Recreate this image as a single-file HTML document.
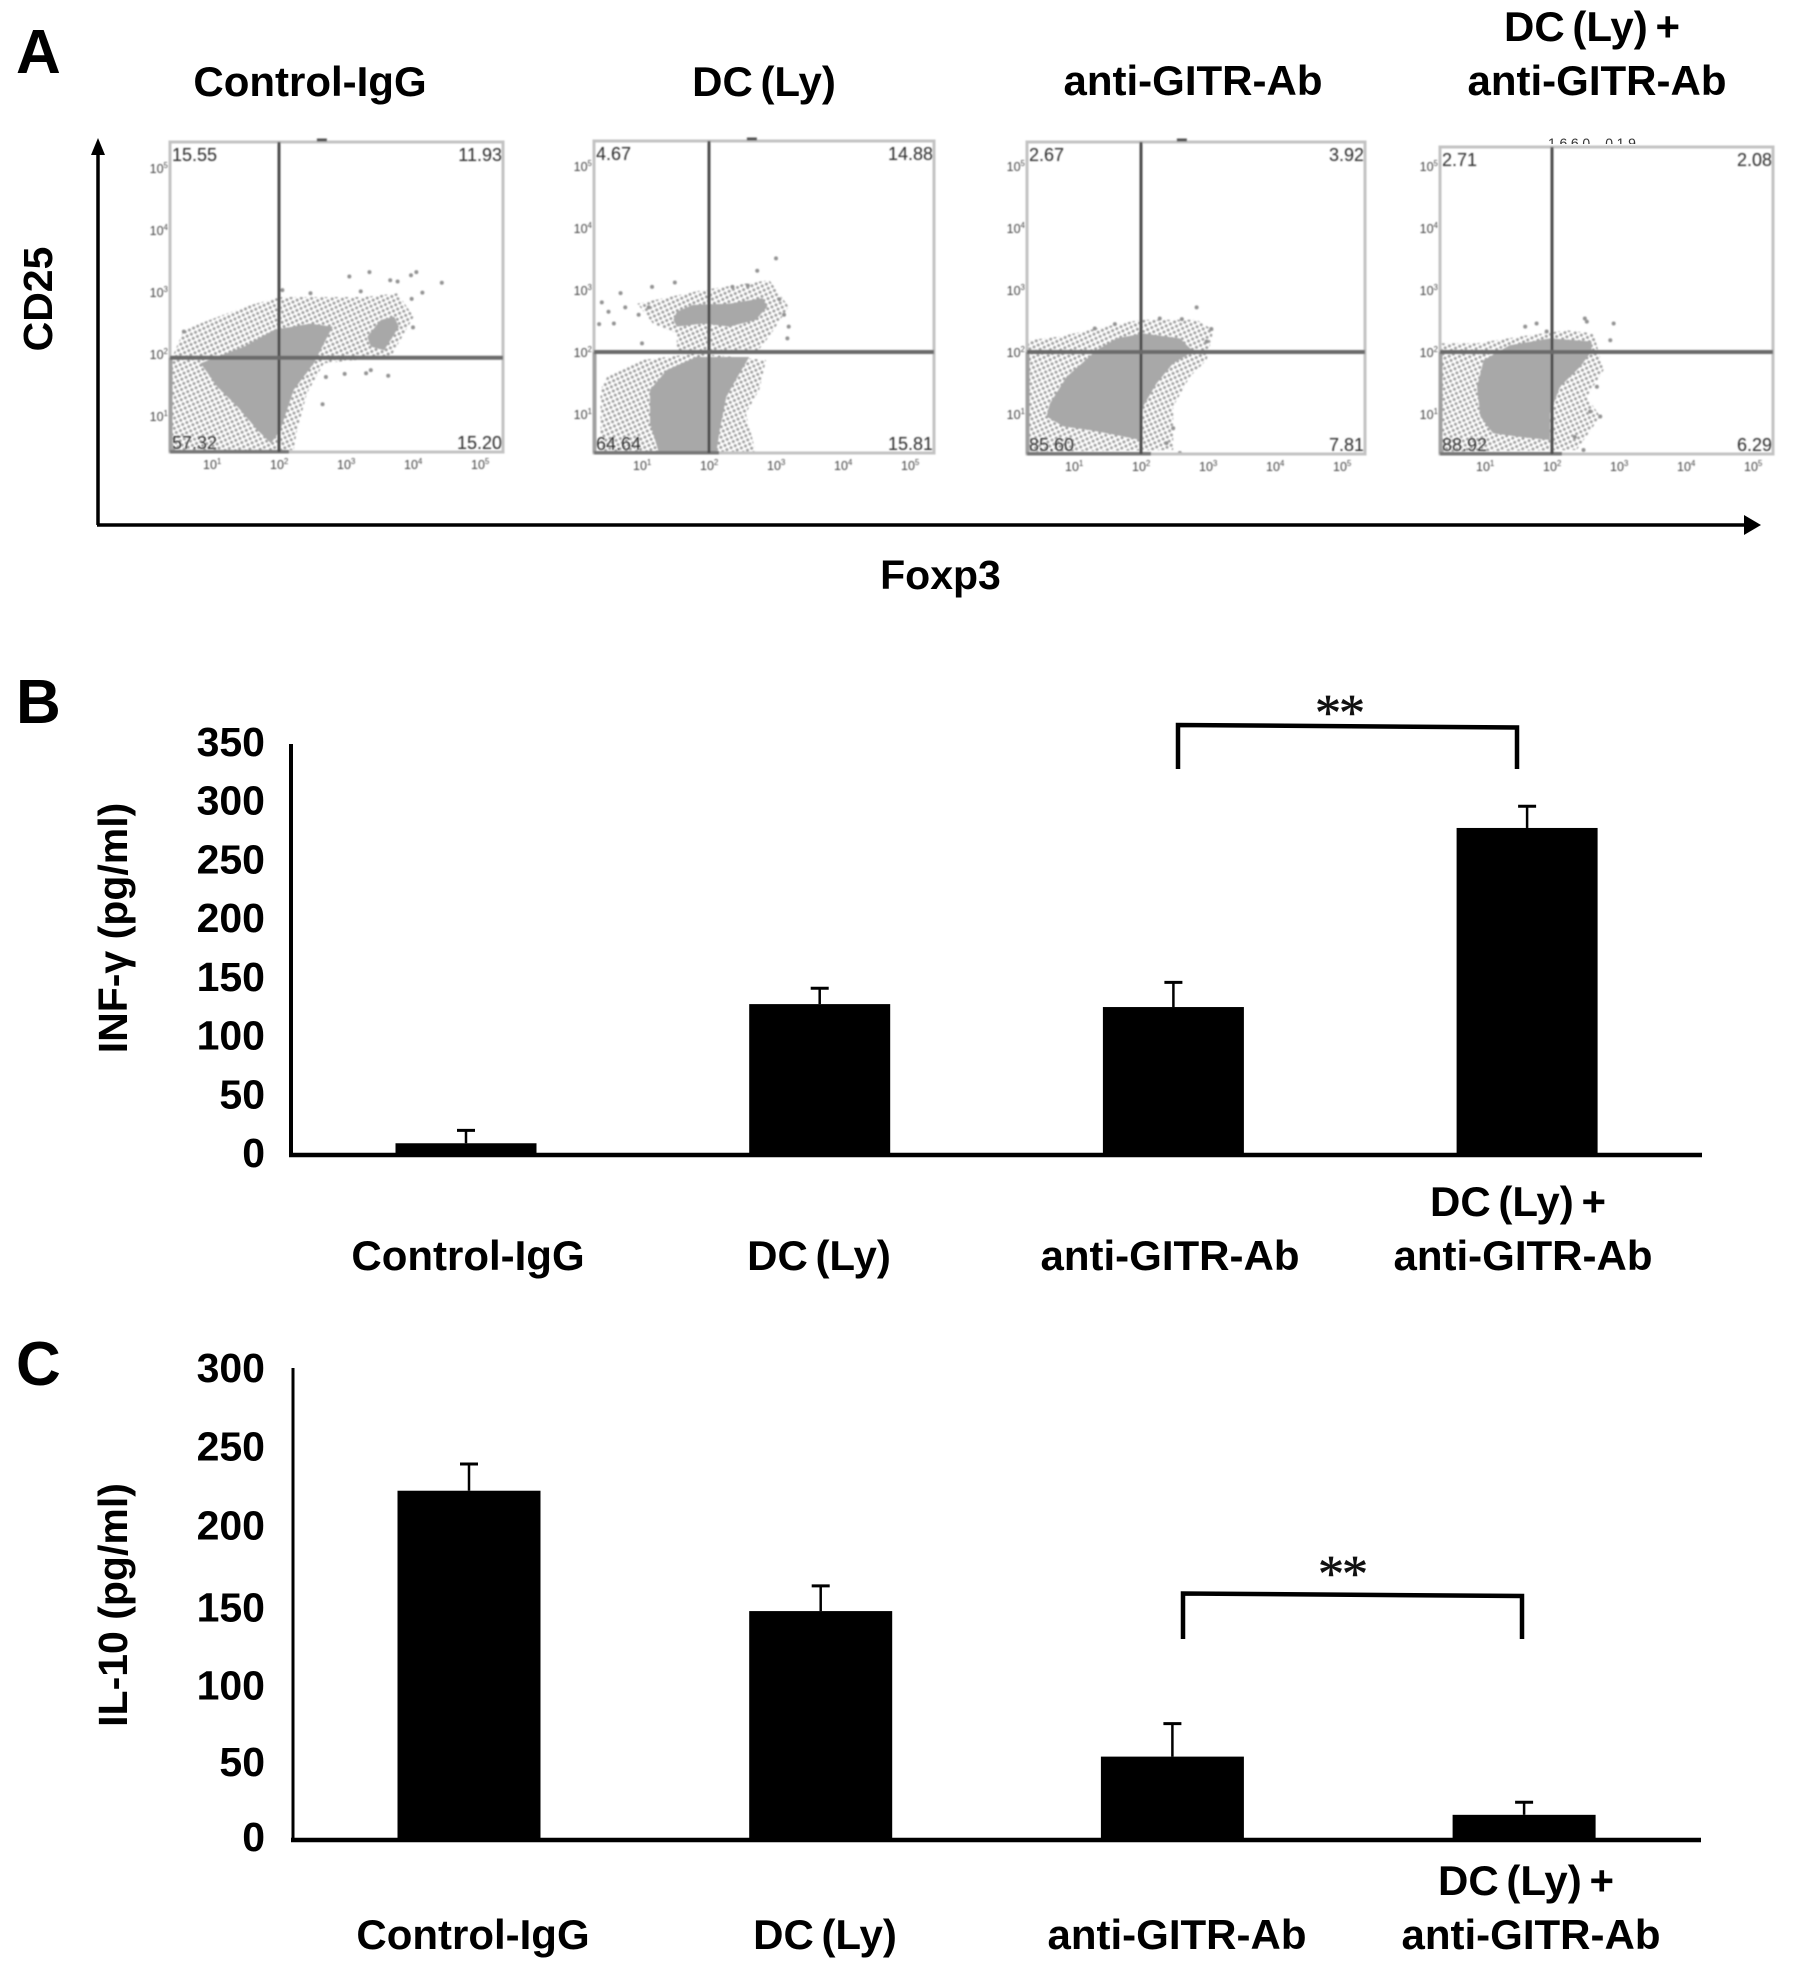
<!DOCTYPE html>
<html lang="en">
<head>
<meta charset="utf-8">
<title>CD25 Foxp3 flow cytometry with INF-γ and IL-10 bar charts</title>
<style>
html,body{margin:0;padding:0;background:#fff;width:1795px;height:1970px;overflow:hidden}
svg{display:block}
text{font-family:"Liberation Sans",sans-serif;fill:#000}
.big{font-size:41px;font-weight:bold}
.cat{font-size:42px;font-weight:bold;word-spacing:-4px}
.letter{font-size:62px;font-weight:bold}
.stars{font-family:"Liberation Serif",serif;font-size:52px;letter-spacing:-2px;fill:#111;stroke:#111;stroke-width:0.6}
.pct{font-size:18px;fill:#2a2a2a}
.ftick{font-size:12.5px;fill:#444}
.sup{font-size:8px;fill:#444}
.runid{font-size:14px;fill:#333}
</style>
</head>
<body>
<svg id="fig" xmlns="http://www.w3.org/2000/svg" width="1795" height="1970" viewBox="0 0 1795 1970">
  <defs>
    <filter id="soft" x="-5%" y="-5%" width="110%" height="110%"><feGaussianBlur stdDeviation="0.7"/></filter>
    <pattern id="stipple" width="6.5" height="6.5" patternUnits="userSpaceOnUse" patternTransform="rotate(20)">
      <circle cx="1.6" cy="1.6" r="1.5" fill="#9e9e9e"/>
      <circle cx="4.85" cy="4.85" r="1.5" fill="#9e9e9e"/>
    </pattern>
    <clipPath id="runClip"><rect x="1540" y="137" width="140" height="7"/></clipPath>
  </defs>
  <rect width="1795" height="1970" fill="#fff"/>

  <text class="letter" x="16" y="73">A</text>
  <text class="letter" x="16" y="723">B</text>
  <text class="letter" x="16" y="1385">C</text>

  <text class="cat" x="310" y="96" text-anchor="middle">Control-IgG</text>
  <text class="cat" x="764" y="96" text-anchor="middle">DC (Ly)</text>
  <text class="cat" x="1193" y="95" text-anchor="middle">anti-GITR-Ab</text>
  <text class="cat" x="1592" y="41" text-anchor="middle">DC (Ly) +</text>
  <text class="cat" x="1597" y="95" text-anchor="middle">anti-GITR-Ab</text>

  <text class="big" text-anchor="middle" transform="translate(52,299) rotate(-90)">CD25</text>
  <text class="big" x="940.5" y="589" text-anchor="middle">Foxp3</text>
  <g>
    <line x1="98" y1="150" x2="98" y2="525" stroke="#000" stroke-width="3.5"/>
    <polygon points="98,138 91,155 105,155" fill="#000"/>
  </g>
  <g>
    <line x1="97" y1="525" x2="1748" y2="525" stroke="#000" stroke-width="3.5"/>
    <polygon points="1761,525 1744,515 1744,535" fill="#000"/>
  </g>

  <g id="flowLayer"></g>
  <text class="runid" x="1548" y="148" clip-path="url(#runClip)" textLength="118">1660_019  . .</text>

  <text class="big" text-anchor="middle" transform="translate(127,928) rotate(-90)">INF-γ (pg/ml)</text>
  <g id="chartB"></g>
  <g>
    <path d="M1178,769 L1178,725 L1517,727.5 L1517,769" fill="none" stroke="#000" stroke-width="4.5"/>
    <text class="stars" x="1339" y="730" text-anchor="middle">**</text>
  </g>

  <text class="big" text-anchor="middle" transform="translate(127,1605) rotate(-90)">IL-10 (pg/ml)</text>
  <g id="chartC"></g>
  <g>
    <path d="M1183,1639 L1183,1593.5 L1522,1596 L1522,1639" fill="none" stroke="#000" stroke-width="4.5"/>
    <text class="stars" x="1342" y="1591" text-anchor="middle">**</text>
  </g>
</svg>

<script>
// ---------- Bar chart data ----------
const infCategories = [["Control-IgG"], ["DC (Ly)"], ["anti-GITR-Ab"], ["DC (Ly) +", "anti-GITR-Ab"]];
const infValues = [10, 128.5, 126, 278.5];
const infErrors = [11, 13.5, 21, 18.5];
const infTicks = [0, 50, 100, 150, 200, 250, 300, 350];

const il10Categories = [["Control-IgG"], ["DC (Ly)"], ["anti-GITR-Ab"], ["DC (Ly) +", "anti-GITR-Ab"]];
const il10Values = [222, 145.5, 53, 16];
const il10Errors = [17, 16, 21, 8];
const il10Ticks = [0, 50, 100, 150, 200, 250, 300];

// ---------- Flow cytometry data (log10 fluorescence decades) ----------
const flowExponents = [1, 2, 3, 4, 5];

const controlQuadrants = ["15.55", "11.93", "57.32", "15.20"];
const controlDense = [
  [[0.83,1.85],[1.48,2.12],[1.93,2.39],[2.47,2.49],[2.80,2.44],[2.67,2.17],[2.52,1.85],[2.22,1.42],[2.02,0.77],[1.88,0.56],[1.68,0.77],[1.38,1.15],[1.08,1.47]],
  [[3.32,2.28],[3.52,2.55],[3.72,2.60],[3.79,2.44],[3.57,2.06],[3.37,2.12]]
];
const controlFringe = [
  [[0.41,1.96],[0.58,2.39],[1.48,2.76],[2.02,2.92],[3.27,2.92],[3.77,2.98],[4.01,2.60],[3.67,1.96],[2.67,1.85],[2.42,1.37],[2.27,0.77],[2.22,0.45],[0.41,0.45]]
];
const controlSparse = [[3.05,3.25],[3.35,3.32],[3.66,3.19],[3.97,3.27],[4.05,3.32],[4.43,3.15],[4.14,2.99],[3.98,2.89],[4.00,2.43],[2.47,2.98],[2.05,3.03],[2.98,1.68],[3.30,1.69],[3.63,1.65],[2.65,1.19],[0.58,2.36],[3.77,3.17],[3.22,3.01],[3.37,1.74],[2.70,1.63]];

const dcQuadrants = ["4.67", "14.88", "64.64", "15.81"];
const dcDense = [
  [[1.52,2.65],[1.76,2.76],[2.31,2.78],[2.80,2.87],[2.87,2.73],[2.70,2.52],[2.31,2.41],[1.91,2.46],[1.52,2.41],[1.47,2.52]],
  [[1.12,1.39],[1.37,1.71],[1.81,1.92],[2.60,1.92],[2.40,1.55],[2.26,1.28],[2.16,0.74],[2.11,0.38],[1.25,0.38],[1.12,0.85]]
];
const dcFringe = [
  [[0.93,2.78],[1.91,3.00],[2.90,3.16],[3.19,2.73],[2.90,2.25],[2.70,1.98],[1.52,1.98],[1.52,2.30],[1.17,2.45]],
  [[0.48,1.60],[0.98,1.87],[1.81,1.98],[2.85,1.87],[2.75,1.39],[2.55,1.01],[2.70,0.38],[0.38,0.38],[0.38,1.39]]
];
const dcSparse = [[3.00,3.51],[2.72,3.31],[1.49,3.12],[0.68,2.95],[3.17,2.22],[3.19,2.41],[1.00,2.14],[0.58,2.46],[2.58,3.07],[2.35,3.05],[1.15,3.05],[3.05,2.85],[3.12,2.60],[0.40,2.80],[0.50,2.65],[0.75,2.72],[0.95,2.60],[1.10,2.72],[0.36,2.45]];

const gitrQuadrants = ["2.67", "3.92", "85.60", "7.81"];
const gitrDense = [
  [[0.64,1.17],[0.89,1.60],[1.34,2.03],[1.64,2.22],[2.03,2.30],[2.58,2.22],[2.78,2.01],[2.48,1.82],[2.23,1.49],[2.03,1.12],[1.99,0.58],[1.64,0.66],[1.24,0.74],[0.84,0.80],[0.59,0.96]]
];
const gitrFringe = [
  [[0.32,2.19],[0.79,2.25],[1.34,2.38],[1.99,2.52],[2.83,2.52],[3.08,2.35],[2.98,1.87],[2.73,1.60],[2.48,1.12],[2.48,0.42],[0.32,0.39]]
];
const gitrSparse = [[2.83,2.72],[1.61,2.45],[2.28,2.54],[2.61,2.53],[3.05,2.37],[2.98,2.17],[2.48,0.77],[2.38,0.53],[1.31,2.38],[2.58,0.37]];

const comboQuadrants = ["2.71", "2.08", "88.92", "6.29"];
const comboDense = [
  [[0.88,1.44],[0.98,1.87],[1.37,2.11],[1.97,2.22],[2.59,2.17],[2.59,2.01],[2.42,1.76],[2.12,1.44],[1.97,1.01],[1.97,0.58],[1.52,0.63],[1.12,0.69],[0.93,0.96]]
];
const comboFringe = [
  [[0.35,2.14],[0.88,2.14],[1.52,2.25],[2.22,2.35],[2.62,2.30],[2.72,1.92],[2.77,1.71],[2.52,1.28],[2.72,0.96],[2.37,0.42],[0.35,0.39]]
];
const comboSparse = [[1.60,2.41],[1.77,2.46],[2.49,2.54],[2.92,2.46],[2.87,2.19],[2.52,2.49],[1.92,2.33],[2.72,0.96],[2.57,1.04],[2.34,0.63],[2.47,0.42],[2.67,1.44]];

// ---------- Helpers ----------
const NS = "http://www.w3.org/2000/svg";
function el(tag, attrs, parent) {
  const node = document.createElementNS(NS, tag);
  for (const k in attrs) node.setAttribute(k, attrs[k]);
  parent.appendChild(node);
  return node;
}

// ---------- Flow plots ----------
function drawFlow(layout, slug, quadrants, dense, fringe, sparse) {
  const xScale = d => layout.x2 + (d - 2) * 67;
  const yScale = d => layout.y2 - (d - 2) * 62;
  const pts = poly => poly.map(p => xScale(p[0]).toFixed(1) + "," + yScale(p[1]).toFixed(1)).join(" ");

  const root = document.getElementById("flowLayer");
  const g = el("g", {filter: "url(#soft)"}, root);
  
  

  fringe.forEach(poly => {
    const p = el("polygon", {points: pts(poly), fill: "url(#stipple)"}, g);
    
    
  });
  dense.forEach(poly => {
    const p = el("polygon", {points: pts(poly), fill: "#a8a8a8"}, g);
    
    
  });
  sparse.forEach(ev => {
    const c = el("circle", {cx: xScale(ev[0]), cy: yScale(ev[1]), r: 2, fill: "#939393"}, g);
    
    
  });

  const frame = el("rect", {x: layout.left, y: layout.top, width: layout.right - layout.left, height: layout.bottom - layout.top, fill: "none", stroke: "#c2c2c2", "stroke-width": 3}, g);
  
  

  const leftPile = el("rect", {x: layout.left - 1.5, y: yScale(layout.gateY), width: 4, height: layout.bottom - yScale(layout.gateY), fill: "#a0a0a0"}, g);
  
  

  const bottomPile = el("rect", {x: layout.left, y: layout.bottom - 2, width: xScale(layout.gateX) + 10 - layout.left, height: 3.5, fill: "#777"}, g);
  
  

  const gateV = el("line", {x1: xScale(layout.gateX), x2: xScale(layout.gateX), y1: layout.top, y2: layout.bottom, stroke: "#4d4d4d", "stroke-width": 3}, g);
  
  

  const gateH = el("line", {x1: layout.left, x2: layout.right, y1: yScale(layout.gateY), y2: yScale(layout.gateY), stroke: "#6a6a6a", "stroke-width": 4}, g);
  
  

  const corner = [
    [layout.left + 2, layout.top + 19, "start"],
    [layout.right - 1, layout.top + 19, "end"],
    [layout.left + 2, layout.bottom - 3, "start"],
    [layout.right - 1, layout.bottom - 3, "end"]
  ];
  quadrants.forEach((q, i) => {
    const t = el("text", {x: corner[i][0], y: corner[i][1], "text-anchor": corner[i][2], class: "pct"}, g);
    t.textContent = q;
    
    
  });

  flowExponents.forEach(e => {
    const tx = el("text", {x: xScale(e) - 9, y: layout.bottom + 17, class: "ftick"}, g);
    tx.textContent = "10";
    
    
    const sx = el("tspan", {dy: -5, class: "sup"}, tx);
    sx.textContent = e;

    const ty = el("text", {x: layout.left - 2, y: yScale(e) + 5, "text-anchor": "end", class: "ftick"}, g);
    ty.textContent = "10";
    
    
    const sy = el("tspan", {dy: -5, class: "sup"}, ty);
    sy.textContent = e;
  });

  if (layout.topMark) {
    const mark = el("rect", {x: xScale(layout.topMark) - 5, y: layout.top - 3.5, width: 10, height: 3, fill: "#555"}, g);
    
    
  }
}

drawFlow({left:170,right:503,top:142,bottom:452,x2:279,y2:354,gateX:2,gateY:1.94,topMark:2.64}, "control-igg", controlQuadrants, controlDense, controlFringe, controlSparse);
drawFlow({left:594,right:934,top:141,bottom:453,x2:709,y2:352,gateX:2,gateY:2,topMark:2.64}, "dc-ly", dcQuadrants, dcDense, dcFringe, dcSparse);
drawFlow({left:1027,right:1365,top:142,bottom:454,x2:1141,y2:352,gateX:2,gateY:2,topMark:2.61}, "anti-gitr", gitrQuadrants, gitrDense, gitrFringe, gitrSparse);
drawFlow({left:1440,right:1773,top:147,bottom:454,x2:1552,y2:352,gateX:2,gateY:2,topMark:0}, "dc-plus-anti-gitr", comboQuadrants, comboDense, comboFringe, comboSparse);

// ---------- Bar charts ----------
function drawBars(layout, slug, categories, values, errors, ticks) {
  const root = document.getElementById(layout.rootId);
  const y = v => layout.zeroY - v * layout.unit;
  const band = i => layout.firstX + i * layout.step;
  const catX = i => layout.catFirst + i * layout.catStep;

  const yAxis = el("line", {x1: layout.axisX, x2: layout.axisX, y1: layout.topY, y2: layout.zeroY + 2, stroke: "#000", "stroke-width": layout.axisW}, root);
  
  

  ticks.forEach(t => {
    const low = (150 - t) / 150;
    const offset = t > 150 ? layout.labelHigh : layout.labelBase + layout.labelBump * (1 - low * low);
    const label = el("text", {x: 265, y: y(t) + offset, "text-anchor": "end", class: "big"}, root);
    label.textContent = t;
    
    
  });

  values.forEach((v, i) => {
    const cx = band(i);
    const whisker = el("line", {x1: cx, x2: cx, y1: y(v), y2: y(v + errors[i]), stroke: "#000", "stroke-width": 2.5}, root);
    
    

    const cap = el("line", {x1: cx - 9, x2: cx + 9, y1: y(v + errors[i]), y2: y(v + errors[i]), stroke: "#000", "stroke-width": 3}, root);
    
    

    const bar = el("rect", {x: cx - layout.barW / 2, y: y(v), width: layout.barW, height: layout.zeroY - y(v), fill: "#000"}, root);
    
    

    const lines = categories[i];
    lines.forEach((line, j) => {
      const base = layout.catBase - (lines.length - 1 - j) * 54;
      const nudge = lines.length > 1 ? (j === 0 ? -3 : 2) : 0;
      const cat = el("text", {x: catX(i) + nudge, y: base, "text-anchor": "middle", class: "cat"}, root);
      cat.textContent = line;
      
      
    });
  });

  const xAxis = el("line", {x1: layout.axisX - 2, x2: layout.endX, y1: layout.zeroY, y2: layout.zeroY, stroke: "#000", "stroke-width": 4.5}, root);
  
  
}

drawBars({rootId:"chartB",zeroY:1155,topY:744,unit:411/350,axisX:291,axisW:4,endX:1702,firstX:466,step:353.7,barW:141,labelBase:12,labelHigh:12,labelBump:0,catBase:1270,catFirst:468,catStep:351}, "inf-gamma", infCategories, infValues, infErrors, infTicks);
drawBars({rootId:"chartC",zeroY:1840,topY:1368,unit:472/300,axisX:293,axisW:3,endX:1701,firstX:469,step:351.7,barW:143,labelBase:11,labelHigh:14,labelBump:6.5,catBase:1949,catFirst:473,catStep:352}, "il10", il10Categories, il10Values, il10Errors, il10Ticks);
</script>
</body>
</html>
